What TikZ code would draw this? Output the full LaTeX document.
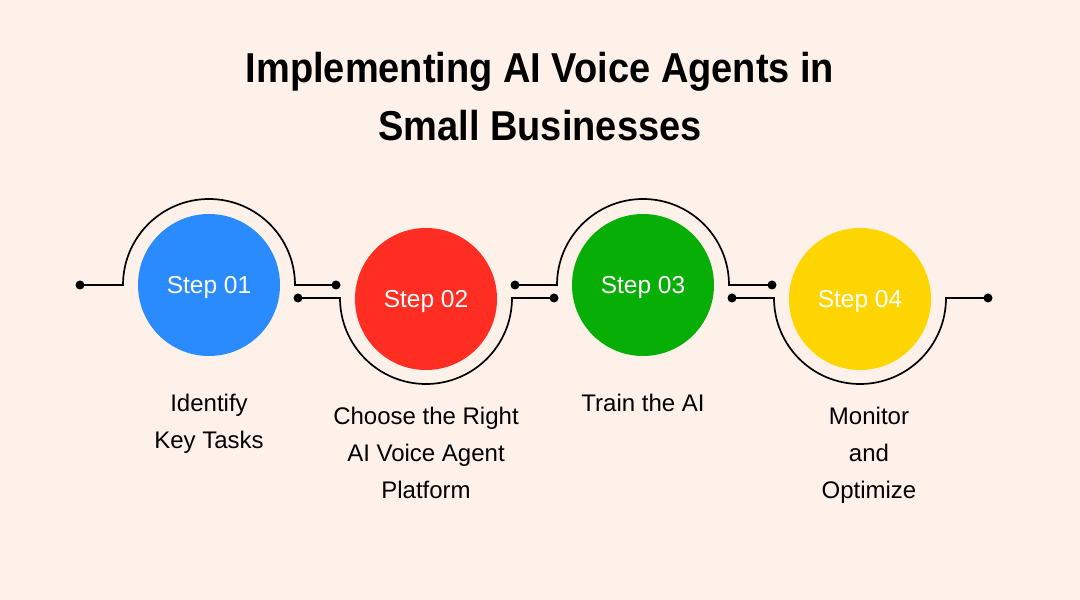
\documentclass[tikz,border=0pt]{standalone}
\usepackage{fontspec}
\setmainfont{Liberation Sans}
\definecolor{bg}{HTML}{FDF1EA}
\definecolor{c1}{HTML}{2A8BFF}
\definecolor{c2}{HTML}{FF2D22}
\definecolor{c3}{HTML}{06AE06}
\definecolor{c4}{HTML}{FFD500}
\tikzset{
  wire/.style={line width=1.7pt, black},
  stepcirc/.style={circle, minimum size=142pt, inner sep=0pt, text=white, text height=17.5pt, text depth=0pt, font=\fontsize{24.5}{28}\selectfont},
  lbl/.style={align=center, anchor=base, font=\fontsize{24}{37}\selectfont, text=black},
  ttl/.style={anchor=base, inner sep=0pt, font=\fontsize{38}{52}\selectfont\bfseries, text=black},
  dot/.style={circle, fill=black, minimum size=9pt, inner sep=0pt}
}
\begin{document}
\begin{tikzpicture}[x=1pt,y=1pt]
\fill[bg] (0,0) rectangle (1080,600);
\useasboundingbox (0,0) rectangle (1080,600);
% title
\node[ttl] (t1) at (540,517) {\scalebox{1}[1.1]{Implementing AI Voice Agents in}};
\node[ttl] (t2) at (540,459) {\scalebox{1}[1.1]{Small Businesses}};
% step circles
\node[stepcirc, fill=c1] (s1) at (209,315) {Step 01};
\node[stepcirc, fill=c2] (s2) at (426,301) {Step 02};
\node[stepcirc, fill=c3] (s3) at (643,315) {Step 03};
\node[stepcirc, fill=c4] (s4) at (860,301) {Step 04};
% dots
\node[dot] (d0) at (80,315) {};
\node[dot] (d1) at (336,315) {};
\node[dot] (d2) at (298,302) {};
\node[dot] (d3) at (554,302) {};
\node[dot] (d4) at (515,315) {};
\node[dot] (d5) at (772,315) {};
\node[dot] (d6) at (732,302) {};
\node[dot] (d7) at (988,302) {};
% wires
\draw[wire] (d0.center) -- (123,315) arc[start angle=180, end angle=0, radius=86pt] -- (d1.center);
\draw[wire] (d2.center) -- (340,302) arc[start angle=180, end angle=360, radius=86pt] -- (d3.center);
\draw[wire] (d4.center) -- (557,315) arc[start angle=180, end angle=0, radius=86pt] -- (d5.center);
\draw[wire] (d6.center) -- (774,302) arc[start angle=180, end angle=360, radius=86pt] -- (d7.center);
% labels (anchor = baseline of last line)
\node[lbl] (l1) at (209,151) {Identify\\Key Tasks};
\node[lbl] (l2) at (426,101) {Choose the Right\\AI Voice Agent\\Platform};
\node[lbl] (l3) at (643,188) {Train the AI};
\node[lbl] (l4) at (869,101) {Monitor\\and\\Optimize};
\end{tikzpicture}
\end{document}
